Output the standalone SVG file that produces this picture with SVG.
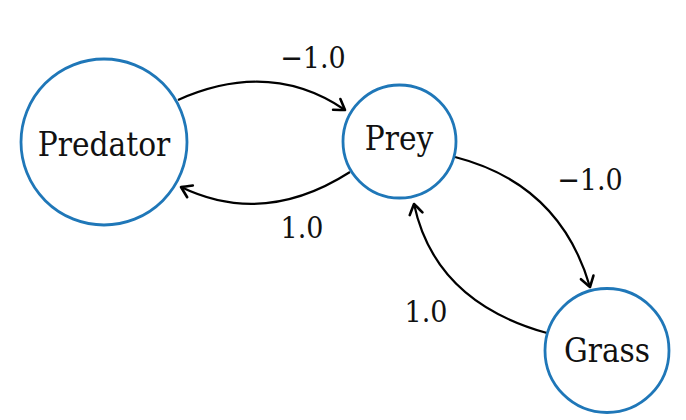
<svg xmlns="http://www.w3.org/2000/svg" width="686" height="420" viewBox="0 0 686 420">
<defs>
<style>
.node{fill:#fff;stroke:#1f77b8;stroke-width:2.8}
.lbl{font-family:'DejaVu Serif Condensed','DejaVu Serif',serif;font-size:33px;fill:#111;text-anchor:middle}
.w{font-family:'DejaVu Serif Condensed','DejaVu Serif',serif;font-size:30px;fill:#111;text-anchor:middle}
.edge{fill:none;stroke:#000;stroke-width:2.2}
</style>
<marker id="arr" markerUnits="userSpaceOnUse" markerWidth="16" markerHeight="16" viewBox="-12 -8 14 16" refX="0" refY="0" orient="auto" overflow="visible">
<path d="M-10,-6.5 Q-3,-2 0,0 Q-3,2 -10,6.5" fill="none" stroke="#000" stroke-width="2.6" stroke-linecap="round" stroke-linejoin="round"/>
</marker>
</defs>
<rect width="686" height="420" fill="#fff"/>
<g id="connectors">
<path class="edge" d="M178,100 Q270,59 345,110" marker-end="url(#arr)"/>
<path class="edge" d="M350,172 Q264,227 181,187" marker-end="url(#arr)"/>
<path class="edge" d="M455,157 Q560,184 590,287" marker-end="url(#arr)"/>
<path class="edge" d="M547,333 Q435,302 414,204" marker-end="url(#arr)"/>
<text class="w" x="313" y="68">−1.0</text>
<text class="w" x="302" y="238">1.0</text>
<text class="w" x="590" y="190">−1.0</text>
<text class="w" x="426" y="322">1.0</text>
</g>
<g id="predator">
<circle class="node" cx="104" cy="142" r="83"/>
<text class="lbl" x="104" y="156">Predator</text>
</g>
<g id="prey">
<circle class="node" cx="399.5" cy="141.5" r="56.5"/>
<text class="lbl" x="399" y="150">Prey</text>
</g>
<g id="grass">
<circle class="node" cx="607" cy="350.5" r="62"/>
<text class="lbl" x="607" y="362">Grass</text>
</g>
</svg>
